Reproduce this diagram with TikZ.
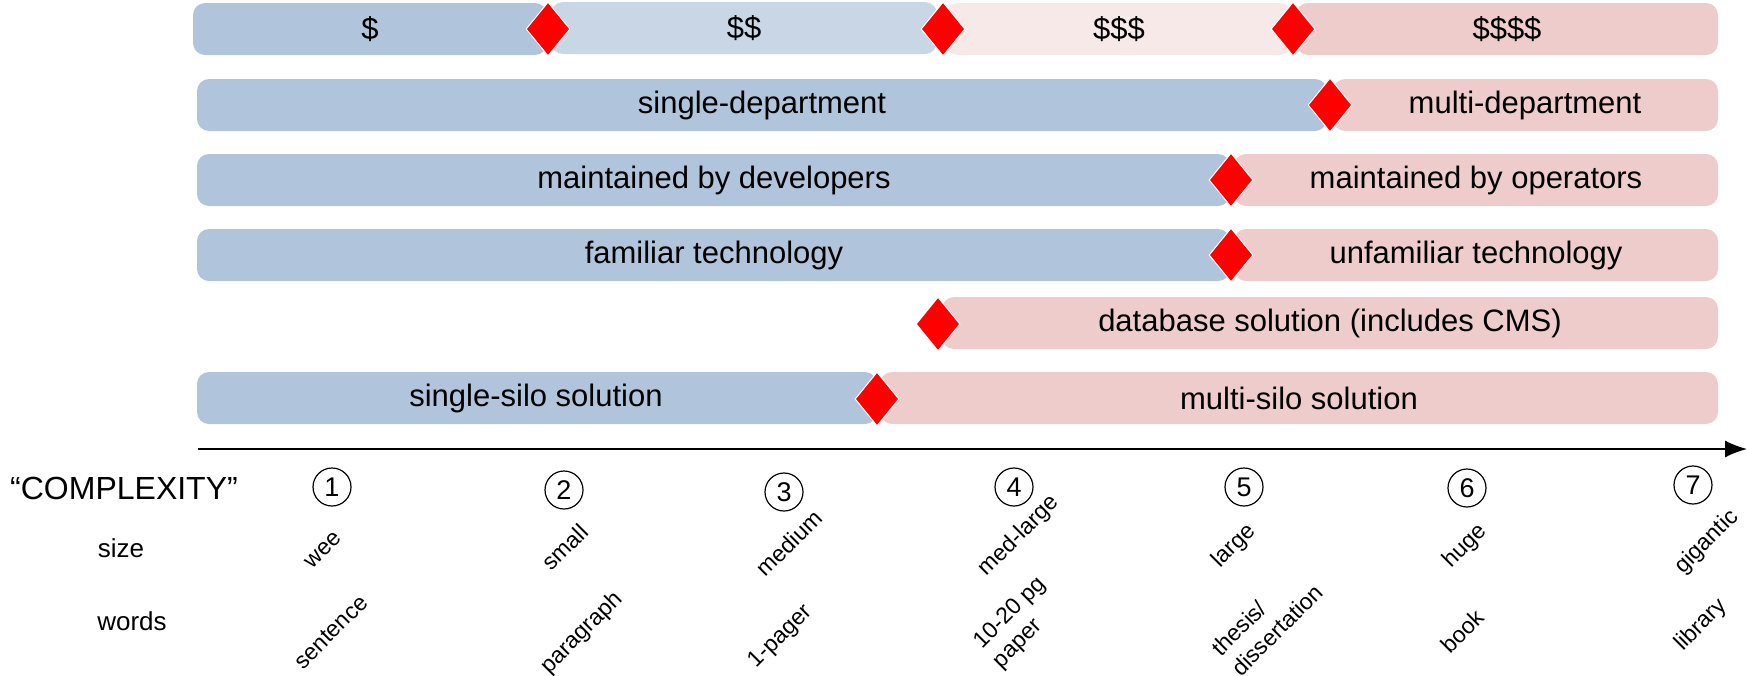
\documentclass[tikz,border=0pt]{standalone}
\usepackage{fontspec}
\setmainfont{Liberation Sans}
\usetikzlibrary{shapes.geometric,arrows.meta}

\begin{document}
\begin{tikzpicture}[x=1pt, y=-1pt,
  bar/.style={rounded corners=12pt},
  bartext/.style={text=black, font=\fontsize{31}{36}\selectfont},
  gate/.style={diamond, fill=red, draw=white, line width=1pt, inner sep=0pt, minimum width=44pt, minimum height=54pt},
  num/.style={circle, draw=black, line width=1.2pt, minimum size=38pt, inner sep=0pt, font=\fontsize{27}{32}\selectfont},
  tick/.style={rotate=45, align=left, font=\fontsize{23}{28}\selectfont},
  side/.style={font=\fontsize{26}{30}\selectfont}]
\useasboundingbox (0,0) rectangle (1748,675);
\definecolor{lowcol}{HTML}{B0C4DC}
\definecolor{midcol}{HTML}{C9D6E6}
\definecolor{palecol}{HTML}{F6E9E8}
\definecolor{highcol}{HTML}{EDCCCB}
% cost
\fill[bar, lowcol] (193,3) rectangle (547,55) (370,29) node[bartext] (cost1) {\$};
\fill[bar, midcol] (551,2) rectangle (937,54) (744,28) node[bartext] (cost2) {\$\$};
\fill[bar, palecol] (946,3) rectangle (1292,55) (1119,29) node[bartext] (cost3) {\$\$\$};
\fill[bar, highcol] (1296,3) rectangle (1718,55) (1507,29) node[bartext] (cost4) {\$\$\$\$};
\node[gate] (g1) at (548,29) {};
\node[gate] (g2) at (943,29) {};
\node[gate] (g3) at (1293,29) {};
% departments
\fill[bar, lowcol] (197,79) rectangle (1327,131) (762,105) node[bartext] (dep1) {single-department};
\fill[bar, highcol] (1333,79) rectangle (1718,131) (1525,105) node[bartext] (dep2) {multi-department};
\node[gate] (g4) at (1330,105) {};
% maintenance
\fill[bar, lowcol] (197,154) rectangle (1230,206) (714,180) node[bartext] (maint1) {maintained by developers};
\fill[bar, highcol] (1234,154) rectangle (1718,206) (1476,180) node[bartext] (maint2) {maintained by operators};
\node[gate] (g5) at (1231,180) {};
% technology
\fill[bar, lowcol] (197,229) rectangle (1230,281) (714,255) node[bartext] (tech1) {familiar technology};
\fill[bar, highcol] (1234,229) rectangle (1718,281) (1476,255) node[bartext] (tech2) {unfamiliar technology};
\node[gate] (g6) at (1231,255) {};
% database
\fill[bar, highcol] (942,297) rectangle (1718,349) (1330,323) node[bartext] (db) {database solution (includes CMS)};
\node[gate] (g7) at (938,324) {};
% silos
\fill[bar, lowcol] (197,372) rectangle (877,424) (536,398) node[bartext] (silo1) {single-silo solution};
\fill[bar, highcol] (880,372) rectangle (1718,424) (1299,398) node[bartext] (silo2) {multi-silo solution};
\node[gate] (g8) at (877,399) {};
% axis
\coordinate (axstart) at (198,449);
\coordinate (axend) at (1747,449);
\draw[line width=1.5pt, -{Latex[length=22pt, width=17pt]}] (axstart) -- (axend);
\node[font=\fontsize{32}{38}\selectfont] (cplx) at (124,488) {“COMPLEXITY”};
\node[side] (sizelbl) at (121,548) {size};
\node[side] (wordslbl) at (132,621) {words};
\node[num] (n1) at (332,487) {1};
\node[num] (n2) at (564,490) {2};
\node[num] (n3) at (784,492) {3};
\node[num] (n4) at (1014,487) {4};
\node[num] (n5) at (1244,487) {5};
\node[num] (n6) at (1467,488) {6};
\node[num] (n7) at (1693,485) {7};
% sizes
\node[tick] (s1) at (323,550) {wee};
\node[tick] (s2) at (565,547) {small};
\node[tick] (s3) at (789,543) {medium};
\node[tick] (s4) at (1019,536) {med-large};
\node[tick] (s5) at (1234,546) {large};
\node[tick] (s6) at (1465,546) {huge};
\node[tick] (s7) at (1707,542) {gigantic};
% words
\node[tick] (w1) at (331,632) {sentence};
\node[tick] (w2) at (582,633) {paragraph};
\node[tick] (w3) at (781,637) {1-pager};
\node[tick] (w4) at (1020,623) {10-20 pg\\paper};
\node[tick] (w5) at (1267,620) {thesis/\\dissertation};
\node[tick] (w6) at (1462,631) {book};
\node[tick] (w7) at (1701,625) {library};
\end{tikzpicture}
\end{document}
